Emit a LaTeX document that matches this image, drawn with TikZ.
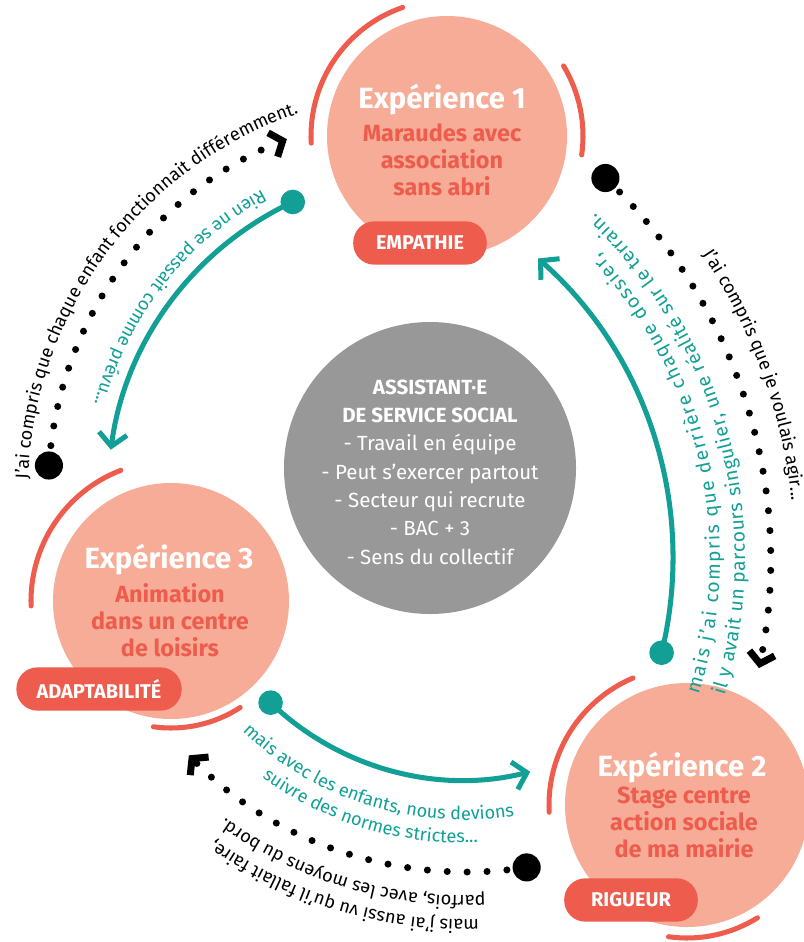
\documentclass[tikz,border=0pt]{standalone}
\usepackage{fontspec}
\setmainfont{Fira Sans}
\usetikzlibrary{arrows.meta,calc,decorations.text}

\definecolor{salmon}{RGB}{246,172,150}
\definecolor{coral}{RGB}{238,92,78}
\definecolor{tealc}{RGB}{18,160,150}
\definecolor{greyc}{RGB}{152,152,152}

\newcommand{\curvefont}{\fontsize{15.5}{18}\selectfont}
\newcommand{\bigcurvefont}{\fontsize{16.5}{19}\selectfont}

\tikzset{
  bubble/.style={circle, fill=salmon, inner sep=0pt, minimum size=#1},
  exptitle/.style={text=white, font=\bfseries\fontsize{25}{28}\selectfont},
  expsub/.style={text=coral, align=center, font=\bfseries\fontsize{20}{23}\selectfont},
  pill/.style={fill=coral, text=white, rounded corners=18pt, minimum height=37pt, minimum width=#1, font=\bfseries\fontsize{17}{20}\selectfont},
  ring/.style={coral, line width=4.3pt, line cap=round},
  tealarrow/.style={tealc, line width=4.3pt, -{Straight Barb[length=11pt,width=24pt]}},
  tealdot/.style={circle, fill=tealc, minimum size=21pt, inner sep=0pt},
  dotline/.style={line width=6pt, line cap=round, dash pattern=on 0pt off 17pt, -{Straight Barb[length=9pt,width=22pt]}},
  bigdot/.style={circle, fill=black, minimum size=24pt, inner sep=0pt},
}

\begin{document}
\begin{tikzpicture}[x=0.03cm, y=0.03cm]
\useasboundingbox (0,0) rectangle (804,-942);

\coordinate (ctrLeft) at (428,-492);
\coordinate (ctrRight) at (242,-561);
\coordinate (ctrTeal) at (273,-558);
\coordinate (ctrLow) at (463,-502);
\coordinate (ctrDots) at (467,-482);

\node[bubble=8.76cm, fill=greyc] (metier) at (430,-468) {};
\node[align=center, text=white, font=\fontsize{17.5}{24.2}\selectfont] (infos) at (430,-472)
  {\textbf{ASSISTANT·E}\\ \textbf{DE SERVICE SOCIAL}\\ - Travail en équipe\\ - Peut s’exercer partout\\
   - Secteur qui recrute\\ - BAC + 3\\ - Sens du collectif};

\node[bubble=7.2cm] (exp1) at (447,-136) {};
\draw[ring] ($(exp1)+(109:136)$) arc[start angle=109, end angle=183, radius=136];
\draw[ring] ($(exp1)+(-8:136)$) arc[start angle=-8, end angle=31, radius=136];
\node[exptitle] (titre1) at (442,-100) {Expérience 1};
\node[expsub] (sous1) at (442,-160) {Maraudes avec\\association\\sans abri};
\node[pill=114pt] (qual1) at (420,-243) {EMPATHIE};

\node[bubble=7.32cm] (exp2) at (687,-805) {};
\draw[ring] ($(exp2)+(113:138)$) arc[start angle=113, end angle=183, radius=138];
\draw[ring] ($(exp2)+(-98:133)$) arc[start angle=-98, end angle=-58, radius=133];
\node[exptitle] (titre2) at (682,-768) {Expérience 2};
\node[expsub] (sous2) at (684,-822) {Stage centre\\action sociale\\de ma mairie};
\node[pill=114pt] (qual2) at (631,-900) {RIGUEUR};

\node[bubble=7.08cm] (exp3) at (171,-601) {};
\draw[ring] ($(exp3)+(111:140)$) arc[start angle=111, end angle=182, radius=140];
\draw[ring] ($(exp3)+(-98:127)$) arc[start angle=-98, end angle=-57, radius=127];
\node[exptitle] (titre3) at (169,-560) {Expérience 3};
\node[expsub] (sous3) at (170,-620) {Animation\\dans un centre\\de loisirs};
\node[pill=141pt] (qual3) at (99,-689) {ADAPTABILITÉ};

\node[tealdot] (depart1) at ($(ctrLeft)+(115:320)$) {};
\draw[tealarrow] (depart1.center) arc[start angle=115, end angle=172.4, radius=320];
\node[tealdot] (depart2) at ($(ctrTeal)+(-13.7:400)$) {};
\draw[tealarrow] (depart2.center) arc[start angle=-13.7, end angle=48.5, radius=400];
\node[tealdot] (depart3) at ($(ctrLow)+(-133.8:278)$) {};
\draw[tealarrow] (depart3.center) arc[start angle=-133.8, end angle=-76, radius=278];

\node[bigdot] (pointA) at ($(ctrLeft)+(176:380)$) {};
\draw[dotline] (pointA.center) arc[start angle=176, end angle=111.8, radius=380];
\node[bigdot] (pointB) at ($(ctrRight)+(46.5:528)$) {};
\draw[dotline] (pointB.center) arc[start angle=46.5, end angle=-11.7, radius=528];
\node[bigdot] (pointC) at ($(ctrDots)+(-81.2:390)$) {};
\draw[dotline] (pointC.center) arc[start angle=-81.2, end angle=-135.5, radius=390];

\path[decorate, decoration={text along path, text align=center,
  text={|\curvefont\color{tealc}|Rien ne se passait comme prévu...}}]
  ($(ctrLeft)+(92:345)$) arc[start angle=92, end angle=192, radius=345];
\path[decorate, decoration={text along path, text align=center,
  text={|\curvefont|J’ai compris que chaque enfant fonctionnait différemment.}}]
  ($(ctrLeft)+(203.5:400)$) arc[start angle=203.5, end angle=83.5, radius=400];

\path[decorate, decoration={text along path, text align=center,
  text={|\curvefont|J’ai compris que je voulais agir...}}]
  ($(ctrRight)+(50:553)$) arc[start angle=50, end angle=-10, radius=553];
\path[decorate, decoration={text along path, text align=fit to path,
  text={|\bigcurvefont\color{tealc}|mais j’ai compris que derrière chaque dossier,}}]
  ($(ctrTeal)+(-17.8:447)$) arc[start angle=-17.8, end angle=43, radius=447];
\path[decorate, decoration={text along path, text align=fit to path,
  text={|\bigcurvefont\color{tealc}|il y avait un parcours singulier, une réalité sur le terrain.}}]
  ($(ctrTeal)+(-16.9:472)$) arc[start angle=-16.9, end angle=46.8, radius=472];

\path[decorate, decoration={text along path, text align=center,
  text={|\curvefont\color{tealc}|mais avec les enfants, nous devions}}]
  ($(ctrLow)+(-157.3:318)$) arc[start angle=-157.3, end angle=-57.3, radius=318];
\path[decorate, decoration={text along path, text align=center,
  text={|\curvefont\color{tealc}|suivre des normes strictes...}}]
  ($(ctrLow)+(-156.8:341)$) arc[start angle=-156.8, end angle=-56.8, radius=341];
\path[decorate, decoration={text along path, text align=center,
  text={|\curvefont|mais j’ai aussi vu qu’il fallait faire,}}]
  ($(ctrDots)+(-56.8:438)$) arc[start angle=-56.8, end angle=-156.8, radius=438];
\path[decorate, decoration={text along path, text align=center,
  text={|\curvefont|parfois, avec les moyens du bord.}}]
  ($(ctrDots)+(-56.6:414)$) arc[start angle=-56.6, end angle=-156.6, radius=414];
\end{tikzpicture}
\end{document}
